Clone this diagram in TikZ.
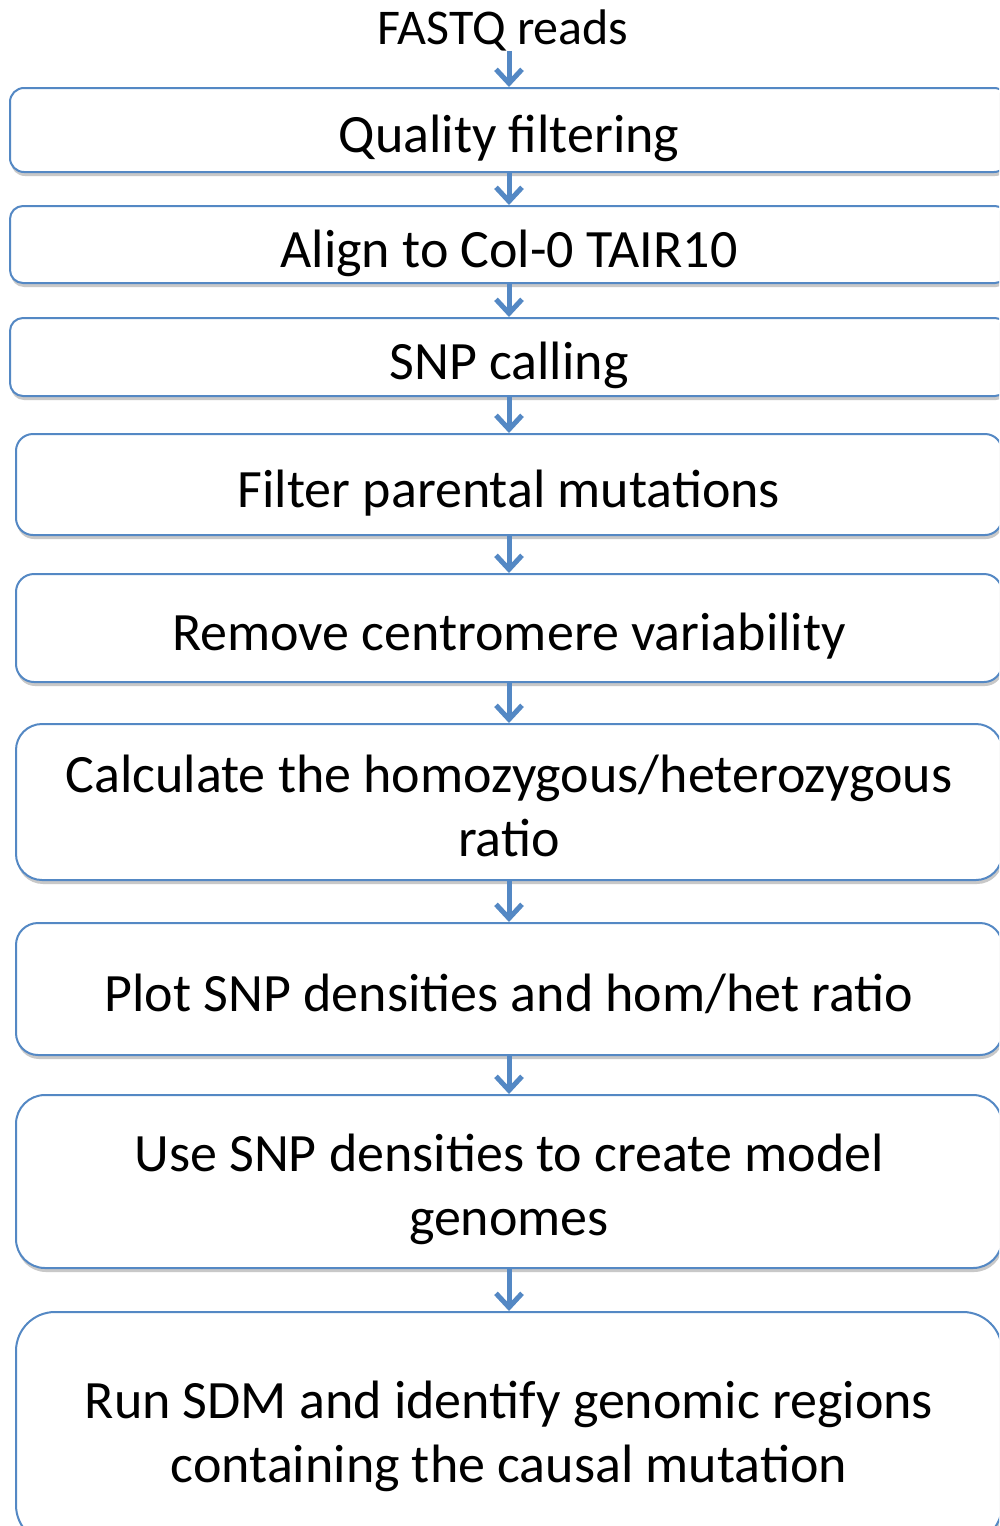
\documentclass[tikz,border=0pt]{standalone}
\usepackage{fontspec}
\setmainfont{Carlito}
\usetikzlibrary{arrows.meta}
\usetikzlibrary{shadows}
\definecolor{mblue}{RGB}{84, 136, 196}
\tikzset{stage/.style = {draw=mblue, line width=2pt, fill=white, rounded corners=#1,
                         align=center, inner sep=0pt, text depth=0pt, text height=45pt,
                         font=\fontsize{54}{64}\selectfont,
                         drop shadow={shadow xshift=1pt, shadow yshift=-4pt,
                                      opacity=0.3, fill=black!70}}}
\tikzset{twolines/.style = {text height=108pt}}
\tikzset{flow/.style = {mblue, line width=5pt,
                        -{Straight Barb[length=14pt, width=26pt]}}}
\begin{document}
\begin{tikzpicture}[x=1pt, y=-1pt]
    \path [use as bounding box, clip] (0, 0) rectangle (999, 1526);
    \fill [white] (0, 0) rectangle (999, 1526);

    \node [inner sep=0pt, font=\fontsize{50}{60}\selectfont] (reads) at (503, 30) {FASTQ reads};

    \node [stage=14, minimum width=998pt, minimum height=84pt] (quality) at (509, 130) {Quality filtering};
    \node [stage=13, minimum width=998pt, minimum height=77pt] (align) at (509, 244.5) {Align to Col-0 TAIR10};
    \node [stage=13, minimum width=998pt, minimum height=78pt] (calling) at (509, 357) {SNP calling};
    \node [stage=17, minimum width=986pt, minimum height=101pt] (parental) at (509, 484.5) {Filter parental mutations};
    \node [stage=18, minimum width=986pt, minimum height=108pt] (centromere) at (509, 628) {Remove centromere variability};
    \node [stage=26, twolines, minimum width=986pt, minimum height=156pt] (ratio) at (509, 802) {Calculate the homozygous/heterozygous\\ ratio};
    \node [stage=22, minimum width=986pt, minimum height=132pt] (plot) at (509, 989) {Plot SNP densities and hom/het ratio};
    \node [stage=29, twolines, minimum width=986pt, minimum height=173pt] (model) at (509, 1181.5) {Use SNP densities to create model\\ genomes};
    \node [stage=39, twolines, minimum width=986pt, minimum height=232pt] (sdm) at (509, 1428) {Run SDM and identify genomic regions\\ containing the causal mutation};

    \draw [flow] (reads.south -| quality.north) -- (quality.north);
    \foreach \a/\b in {quality/align, align/calling, calling/parental, parental/centromere,
                       centromere/ratio, ratio/plot, plot/model, model/sdm} {
      \draw [flow] (\a) -- (\b);
    }
\end{tikzpicture}
\end{document}
